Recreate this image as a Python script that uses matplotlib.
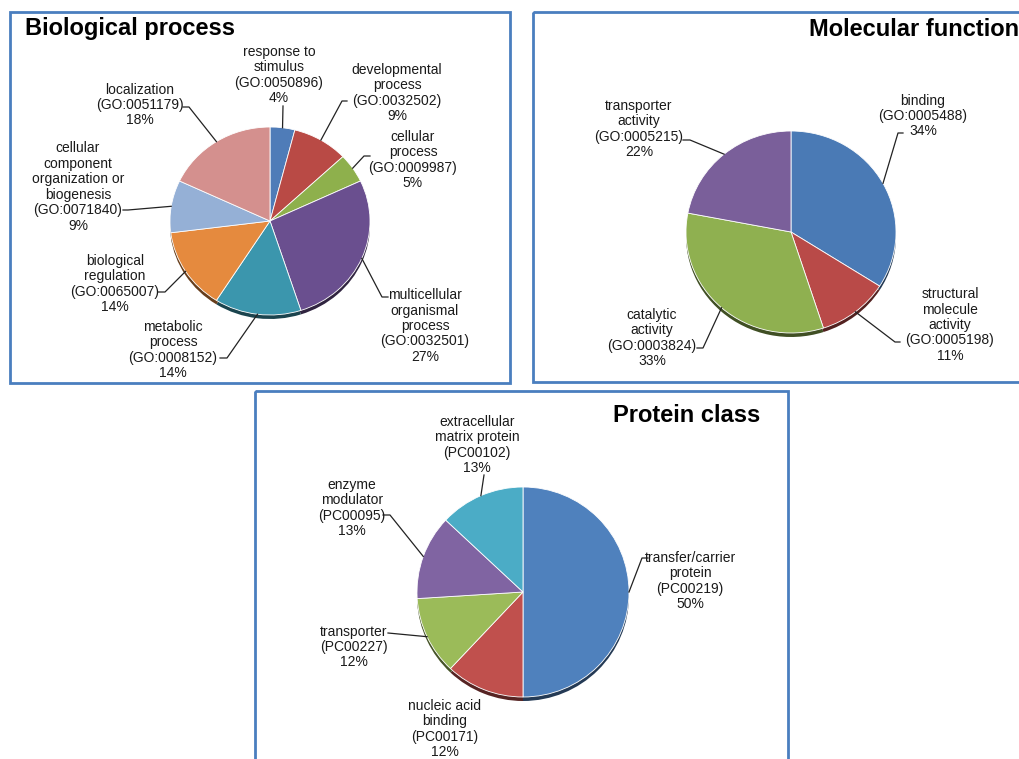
import numpy as np
import matplotlib
matplotlib.use('Agg')
import matplotlib.pyplot as plt
from matplotlib.patches import Rectangle
from matplotlib.colors import to_rgb

plt.rcParams['font.family'] = ['Liberation Sans', 'DejaVu Sans']

W, H = 1020, 759

# --- data -------------------------------------------------------------
bp_names = ['response to\nstimulus\n(GO:0050896)',
            'developmental\nprocess\n(GO:0032502)',
            'cellular\nprocess\n(GO:0009987)',
            'multicellular\norganismal\nprocess\n(GO:0032501)',
            'metabolic\nprocess\n(GO:0008152)',
            'biological\nregulation\n(GO:0065007)',
            'cellular\ncomponent\norganization or\nbiogenesis\n(GO:0071840)',
            'localization\n(GO:0051179)']
bp_values = [4, 9, 5, 27, 14, 14, 9, 18]
bp_colors = ['#4f7cb8', '#b94a45', '#8eb04c', '#6a4f8f',
             '#3b96ad', '#e58a3e', '#95b0d6', '#d4908e']

mf_names = ['binding\n(GO:0005488)',
            'structural\nmolecule\nactivity\n(GO:0005198)',
            'catalytic\nactivity\n(GO:0003824)',
            'transporter\nactivity\n(GO:0005215)']
mf_values = [34, 11, 33, 22]
mf_colors = ['#4a7ab5', '#b94a48', '#8fb050', '#7a5f9a']

pc_names = ['transfer/carrier\nprotein\n(PC00219)',
            'nucleic acid\nbinding\n(PC00171)',
            'transporter\n(PC00227)',
            'enzyme\nmodulator\n(PC00095)',
            'extracellular\nmatrix protein\n(PC00102)']
pc_values = [50, 12, 12, 13, 13]
pc_colors = ['#4f81bd', '#c0504d', '#9bbb59', '#8064a2', '#4bacc6']

# --- layout (pixels, y downwards) --------------------------------------
bp_geom = (270, 221, 100, 94)
bp_text = [(279, 75), (397, 93), (413, 160), (425, 326),
           (173, 350), (115, 284), (78, 187), (140, 105)]
bp_lead = [(283, 106, 0), (347, 101, -5), (370, 156, -6), (388, 297, -6),
           (220, 358, 7), (158, 292, 7), (123, 210, 5), (183, 107, 6)]

mf_geom = (791, 232, 105, 101)
mf_text = [(923, 116), (950, 325), (652, 338), (639, 129)]
mf_lead = [(903, 133, -5), (900, 342, -5), (697, 348, 6), (683, 140, 7)]

pc_geom = (523, 592, 106, 105)
pc_text = [(690, 581), (445, 729), (354, 647), (352, 508), (477, 445)]
pc_lead = [(648, 558, -6), None, (388, 633, 0), (383, 515, 7), (484, 475, 0)]


def add_pie(fig, values, colors, geom, dy=0, z=1, edge='white'):
    cx, cy, rx, ry = geom
    m = 1.04
    box = [(cx - rx * m) / W, 1 - (cy + dy + ry * m) / H,
           2 * rx * m / W, 2 * ry * m / H]
    ax = fig.add_axes(box, zorder=z)
    kw = dict(linewidth=0.6, edgecolor=edge) if edge else dict(linewidth=0)
    ax.pie(values, colors=colors, startangle=90, counterclock=False,
           radius=1, wedgeprops=kw)
    ax.set_xlim(-m, m)
    ax.set_ylim(-m, m)
    ax.set_aspect('auto')
    ax.axis('off')
    return ax


def draw_chart(fig, ov, names, values, colors, geom, text_pos, leads):
    # darker copy slightly lower gives the 3D rim
    dark = [tuple(c * 0.45 for c in to_rgb(col)) for col in colors]
    add_pie(fig, values, dark, geom, dy=4, z=1, edge=None)
    add_pie(fig, values, colors, geom, z=2)

    cx, cy, rx, ry = geom
    vals = np.array(values, dtype=float)
    mid = np.cumsum(vals) - vals / 2
    theta = np.deg2rad(90 - 360 * mid / vals.sum())
    for i, name in enumerate(names):
        tx, ty = text_pos[i]
        ov.text(tx, ty, f'{name}\n{values[i]}%', ha='center', va='center',
                fontsize=10, linespacing=1.13, color='#1a1a1a')
        if leads[i] is None:
            continue
        lx, ly, dx = leads[i]
        ex = cx + rx * np.cos(theta[i])
        ey = cy - ry * np.sin(theta[i])
        if dx:
            ov.plot([ex, lx + dx, lx], [ey, ly, ly], color='#222222', lw=0.9)
        else:
            ov.plot([ex, lx], [ey, ly], color='#222222', lw=0.9)


fig = plt.figure(figsize=(W / 100, H / 100), dpi=100)
fig.patch.set_facecolor('white')

ov = fig.add_axes([0, 0, 1, 1], zorder=10)
ov.set_xlim(0, W)
ov.set_ylim(H, 0)
ov.axis('off')

border = '#4a7ebf'
for (x0, y0, w, h) in [(10, 12, 500, 371), (533, 12, 520, 370), (255, 391, 533, 400)]:
    ov.add_patch(Rectangle((x0, y0), w, h, fill=False, edgecolor=border, lw=2.0))

draw_chart(fig, ov, bp_names, bp_values, bp_colors, bp_geom, bp_text, bp_lead)
draw_chart(fig, ov, mf_names, mf_values, mf_colors, mf_geom, mf_text, mf_lead)
draw_chart(fig, ov, pc_names, pc_values, pc_colors, pc_geom, pc_text, pc_lead)

ov.text(25, 29, 'Biological process', fontsize=17, fontweight='bold',
        ha='left', va='center', color='black')
ov.text(809, 29, 'Molecular function', fontsize=17, fontweight='bold',
        ha='left', va='center', color='black')
ov.text(760, 416, 'Protein class', fontsize=17, fontweight='bold',
        ha='right', va='center', color='black')

fig.savefig('out.png', dpi=100)
